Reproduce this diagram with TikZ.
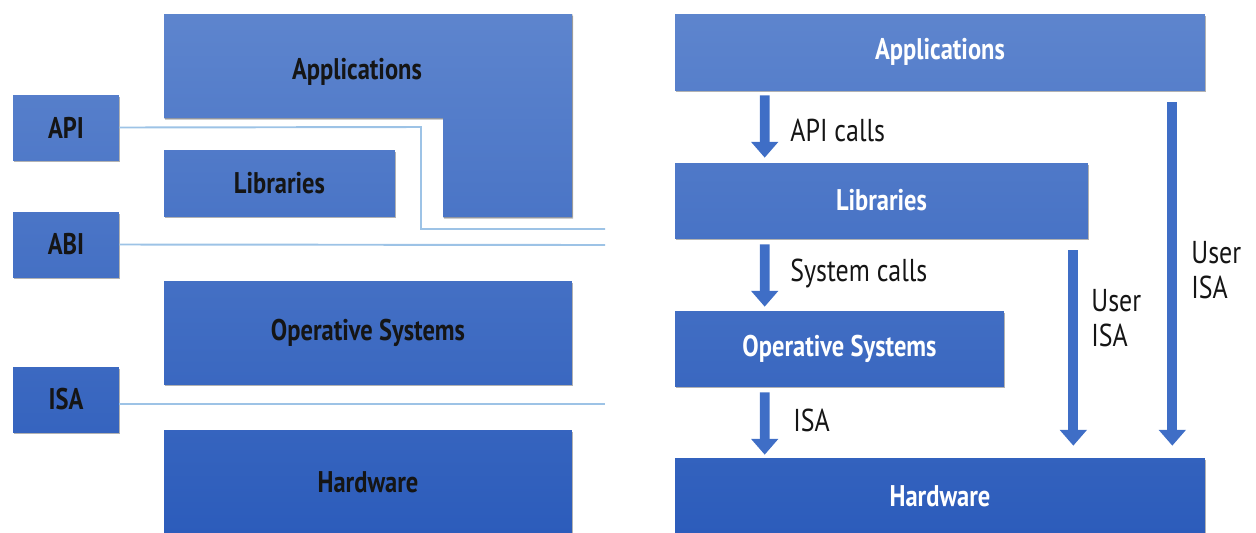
\documentclass[tikz,border=0pt]{standalone}
\usepackage{fontspec}
\setmainfont[FakeStretch=0.82]{PT Sans}
\usetikzlibrary{arrows.meta,calc,shadows}

\definecolor{layertop}{HTML}{5F86CE}
\definecolor{layerbot}{HTML}{2C5CBB}
\definecolor{arrowblue}{HTML}{3F6EC6}
\definecolor{ifline}{HTML}{9DC3E6}
\definecolor{darktext}{HTML}{151515}

\tikzset{
  layer/.style 2 args={draw=none, top color=layerbot!#1!layertop, bottom color=layerbot!#2!layertop,
    drop shadow={shadow xshift=0.6pt, shadow yshift=-0.9pt, opacity=0.3, fill=black}},
  boxtext/.style={font=\bfseries\fontsize{17}{20}\selectfont},
  leftbox/.style={boxtext, text=darktext, inner sep=0pt},
  rightbox/.style={boxtext, text=white, inner sep=0pt},
  ifbox/.style={leftbox, minimum width=2.12cm, minimum height=1.3cm},
  ifline/.style={draw=ifline, line width=1.1pt},
  bigarrow/.style={draw=arrowblue, line width=5.5pt, -{Triangle[width=15pt,length=9pt]}},
  calltext/.style={font=\fontsize{18}{20}\selectfont, text=darktext, inner sep=0pt, align=left}
}

\begin{document}
\begin{tikzpicture}[x=0.02cm,y=-0.02cm]
  \useasboundingbox (0,0) rectangle (1256,532);

  % left: layers and interfaces
  \fill [layer={3}{41}] (164,14) -- (572,14) -- (572,217) -- (443,217) -- (443,118) -- (164,118) -- cycle;
  \node [leftbox] (lapp) at (357,72) {Applications};
  \node [leftbox, layer={28}{41}, minimum width=4.62cm, minimum height=1.32cm] (llib) at (279.5,183) {Libraries};
  \node [leftbox, layer={53}{72}, minimum width=8.16cm, minimum height=2.06cm] (los) at (368,332.5) {Operative Systems};
  \node [leftbox, layer={81}{100}, minimum width=8.16cm, minimum height=2.08cm] (lhw) at (368,482) {Hardware};

  \node [ifbox, layer={18}{30}] (api) at (66,127.5) {API};
  \node [ifbox, layer={40}{52}] (abi) at (66,244.5) {ABI};
  \node [ifbox, layer={69}{81}] (isa) at (66,399.5) {ISA};

  \coordinate (apiend) at (605,229);
  \coordinate (abiend) at (605,245);
  \coordinate (isaend) at (605,404);
  \draw [ifline] (api.east) -- (421,127) -- (421,229) -- (apiend);
  \draw [ifline] (abi.east) -- (abiend);
  \draw [ifline] (isa.east |- isaend) -- (isaend);

  % right: layers and calls
  \node [rightbox, layer={3}{17}, minimum width=10.6cm, minimum height=1.52cm] (rapp) at (940,52) {Applications};
  \node [rightbox, layer={31}{45}, minimum width=8.26cm, minimum height=1.5cm] (rlib) at (881.5,200.5) {Libraries};
  \node [rightbox, layer={58}{73}, minimum width=6.58cm, minimum height=1.5cm] (ros) at (839.5,348.5) {Operative Systems};
  \node [rightbox, layer={86}{100}, minimum width=10.6cm, minimum height=1.52cm] (rhw) at (940,496) {Hardware};

  \draw [bigarrow] ($(rapp.south west)+(90,5)$) -- ($(rlib.north west)+(90,-5)$);
  \draw [bigarrow] ($(rlib.south west)+(90,6)$) -- ($(ros.north west)+(90,-4)$);
  \draw [bigarrow] ($(ros.south west)+(90,6)$) -- ($(rhw.north west)+(90,-3)$);
  \draw [bigarrow] ($(rlib.south east)+(-15,12)$) -- ($(rlib.east |- rhw.north)+(-15,-12)$);
  \draw [bigarrow] ($(rapp.south east)+(-33,12)$) -- ($(rhw.north east)+(-33,-12)$);

  \node [calltext, anchor=west] (apicalls) at (790,130) {API calls};
  \node [calltext, anchor=west] (syscalls) at (790,273) {System calls};
  \node [calltext, anchor=west] (isacalls) at (793,420) {ISA};
  \node [calltext, anchor=north west] (userisa) at (1091,289) {User\\ISA};
  \node [calltext, anchor=north west] (userisa2) at (1191,241) {User\\ISA};
\end{tikzpicture}
\end{document}
